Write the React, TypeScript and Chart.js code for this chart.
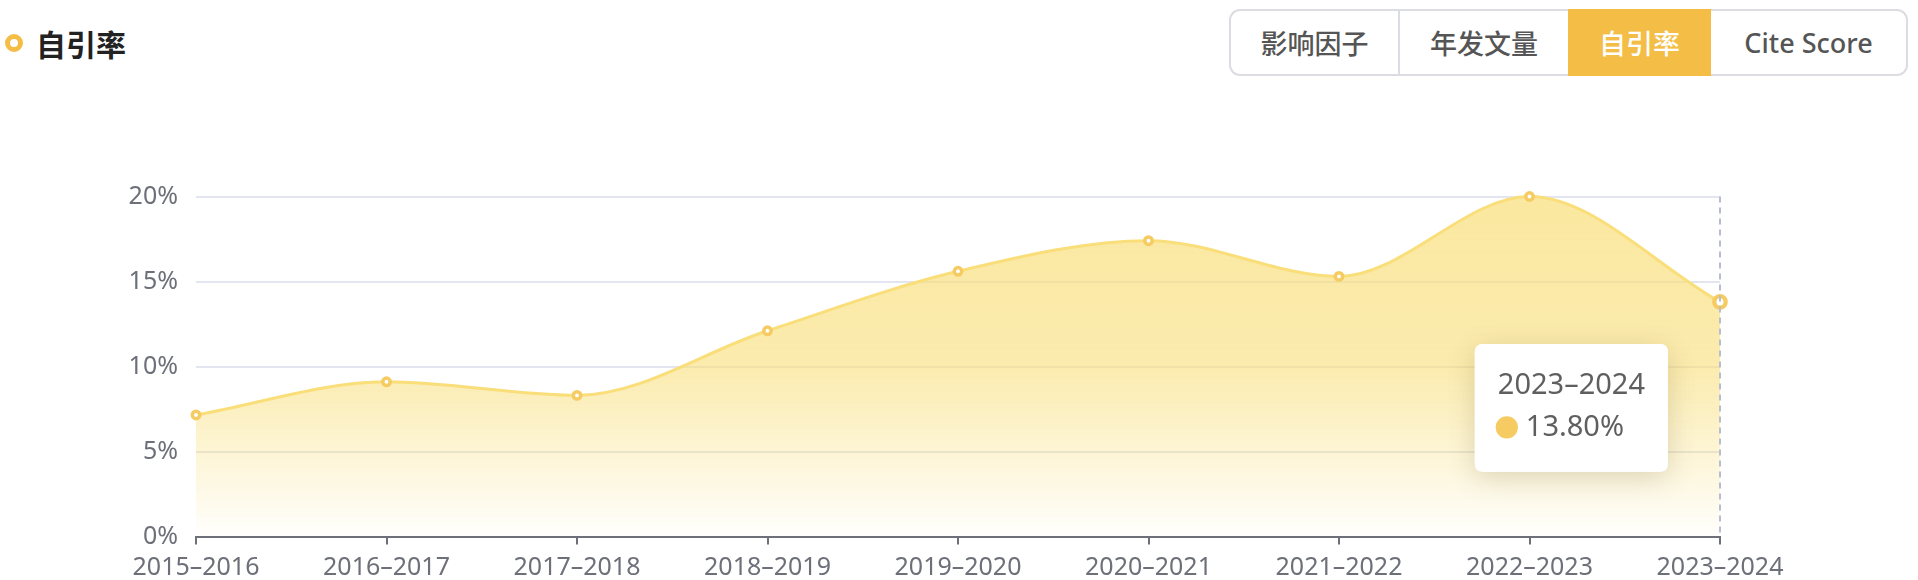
import React, { useEffect, useRef } from 'react';
import { Chart, registerables, Tooltip } from 'chart.js';

Chart.register(...registerables);

// ---- data ----
const categories = ['2015–2016', '2016–2017', '2017–2018', '2018–2019', '2019–2020', '2020–2021', '2021–2022', '2022–2023', '2023–2024'];
const selfCitationRate = [7.15, 9.1, 8.3, 12.1, 15.6, 17.4, 15.3, 20.0, 13.8];
const yMin = 0;
const yMax = 20;
const yStep = 5;
const tabs = ['影响因子', '年发文量', '自引率', 'Cite Score'];
const tabWidths = [169, 170, 143, 197];
const activeTab = '自引率';
const pageTitle = '自引率';
const activeIndex = 8;

const FONT = "'Noto Sans', 'Noto Sans CJK SC', sans-serif";
const AXIS_COLOR = '#6e7079';
const GRID_COLOR = '#e3e6f1';
const LINE_COLOR = '#f9de7a';
const POINT_COLOR = '#f5cb62';
const ACCENT = '#f4bd45';

(Tooltip.positioners as any).leftOfPoint = function (items: any[]) {
  if (!items || !items.length) return false;
  const el = items[0].element;
  return { x: el.x - 52, y: el.y + 106 };
};

const axisPointer = {
  id: 'axisPointer',
  afterDatasetsDraw(chart: any) {
    const act = chart.getActiveElements();
    if (!act.length) return;
    const x = act[0].element.x;
    const { top, bottom } = chart.chartArea;
    const ctx = chart.ctx;
    ctx.save();
    ctx.strokeStyle = '#b9bece';
    ctx.lineWidth = 2;
    ctx.setLineDash([6, 5]);
    ctx.beginPath();
    ctx.moveTo(x, top);
    ctx.lineTo(x, bottom);
    ctx.stroke();
    ctx.restore();
  },
};

const tooltipShadow = {
  id: 'tooltipShadow',
  beforeTooltipDraw(chart: any, args: any) {
    const tt = args.tooltip;
    if (!tt || tt.opacity === 0) return;
    const ctx = chart.ctx;
    ctx.save();
    ctx.shadowColor = 'rgba(90, 70, 20, 0.2)';
    ctx.shadowBlur = 28;
    ctx.shadowOffsetY = 6;
    ctx.fillStyle = '#ffffff';
    ctx.beginPath();
    (ctx as any).roundRect(tt.x, tt.y, tt.width, tt.height, 8);
    ctx.fill();
    ctx.restore();
  },
};

function LineChart() {
  const ref = useRef<HTMLCanvasElement | null>(null);
  useEffect(() => {
    if (!ref.current) return;
    const chart = new Chart(ref.current, {
      type: 'line',
      data: {
        labels: categories,
        datasets: [
          {
            label: pageTitle,
            data: selfCitationRate,
            clip: false,
            borderColor: LINE_COLOR,
            borderWidth: 3,
            cubicInterpolationMode: 'monotone',
            fill: 'origin',
            backgroundColor: (c: any) => {
              const ca = c.chart.chartArea;
              if (!ca) return 'rgba(248,221,115,0.5)';
              const g = c.chart.ctx.createLinearGradient(0, ca.top, 0, ca.bottom);
              g.addColorStop(0, 'rgba(248,221,115,0.68)');
              g.addColorStop(0.5, 'rgba(248,221,115,0.58)');
              g.addColorStop(1, 'rgba(248,221,115,0.02)');
              return g;
            },
            pointRadius: 3.7,
            pointBorderWidth: 3.5,
            pointBackgroundColor: '#ffffff',
            pointBorderColor: POINT_COLOR,
            pointHoverRadius: 5.7,
            pointHoverBorderWidth: 4.3,
            pointHoverBackgroundColor: '#ffffff',
            pointHoverBorderColor: POINT_COLOR,
          } as any,
        ],
      },
      options: {
        animation: false,
        responsive: true,
        maintainAspectRatio: false,
        events: [],
        layout: { padding: { top: 96.5, right: 198, left: 0, bottom: 0 } },
        scales: {
          x: {
            type: 'category',
            offset: false,
            border: { display: true, color: AXIS_COLOR, width: 2 },
            grid: { drawOnChartArea: false, drawTicks: true, tickLength: 8, color: AXIS_COLOR, lineWidth: 2 },
            ticks: { color: AXIS_COLOR, font: { family: FONT, size: 25 }, padding: 8, maxRotation: 0, autoSkip: false },
            afterFit: (s: any) => { s.height = 43.5; },
          },
          y: {
            min: yMin,
            max: yMax,
            border: { display: false },
            grid: {
              drawTicks: false,
              lineWidth: 2,
              color: (c: any) => (c.tick && c.tick.value === 0 ? 'rgba(0,0,0,0)' : GRID_COLOR),
            },
            ticks: {
              stepSize: yStep,
              color: AXIS_COLOR,
              padding: 18,
              font: { family: FONT, size: 25 },
              callback: (v: any) => `${v}%`,
            },
            afterFit: (s: any) => { s.width = 196; },
          },
        },
        plugins: {
          legend: { display: false },
          title: { display: false },
          tooltip: {
            enabled: true,
            position: 'leftOfPoint' as any,
            xAlign: 'right',
            yAlign: 'center',
            caretSize: 0,
            caretPadding: 0,
            backgroundColor: '#ffffff',
            borderWidth: 0,
            cornerRadius: 8,
            padding: { top: 24, bottom: 27, left: 23, right: 23 },
            titleColor: '#5f5f5f',
            bodyColor: '#5f5f5f',
            titleFont: { family: FONT, size: 29, weight: 'normal' as any },
            bodyFont: { family: FONT, size: 29 },
            titleMarginBottom: 7,
            displayColors: true,
            usePointStyle: true,
            boxWidth: 18,
            boxHeight: 18,
            boxPadding: 8,
            callbacks: {
              label: (item: any) => `${Number(item.parsed.y).toFixed(2)}%`,
              labelColor: () => ({ borderColor: POINT_COLOR, backgroundColor: POINT_COLOR }) as any,
              labelPointStyle: () => ({ pointStyle: 'circle', rotation: 0 }) as any,
            },
          },
        },
      },
      plugins: [axisPointer, tooltipShadow],
    });
    const active = [{ datasetIndex: 0, index: activeIndex }];
    chart.setActiveElements(active);
    chart.tooltip?.setActiveElements(active, { x: 0, y: 0 });
    chart.update();
    return () => chart.destroy();
  }, []);
  return (
    <div style={{ position: 'absolute', left: 0, top: 100, width: 1918, height: 480 }}>
      <canvas ref={ref} />
    </div>
  );
}

export default function App() {
  useEffect(() => {
    document.body.style.margin = '0';
  }, []);
  return (
    <div style={{ position: 'relative', width: 1918, height: 580, background: '#fff', fontFamily: FONT, overflow: 'hidden' }}>
      <div
        style={{
          position: 'absolute', left: 5, top: 34, width: 18, height: 18, boxSizing: 'border-box',
          border: `5.5px solid ${ACCENT}`, borderRadius: '50%', background: '#fff',
        }}
      />
      <div
        style={{
          position: 'absolute', left: 36, top: 22, height: 42, lineHeight: '42px',
          fontSize: 30, fontWeight: 700, color: '#222', fontFamily: "'Noto Sans CJK SC', sans-serif",
        }}
      >
        {pageTitle}
      </div>
      <div style={{ position: 'absolute', left: 1229, top: 9, height: 67, display: 'flex' }}>
        {tabs.map((t, i) => {
          const active = t === activeTab;
          const first = i === 0;
          const last = i === tabs.length - 1;
          const bc = active ? ACCENT : '#dcdde3';
          return (
            <div
              key={t}
              style={{
                boxSizing: 'border-box',
                width: tabWidths[i],
                height: 67,
                display: 'flex',
                alignItems: 'center',
                justifyContent: 'center',
                fontSize: 27,
                fontWeight: 500,
                color: active ? '#fff' : '#555',
                background: active ? ACCENT : '#fff',
                borderTop: `2px solid ${bc}`,
                borderBottom: `2px solid ${bc}`,
                borderLeft: first || i === 1 ? `2px solid ${bc}` : 'none',
                borderRight: last ? `2px solid ${bc}` : 'none',
                borderTopLeftRadius: first ? 11 : 0,
                borderBottomLeftRadius: first ? 11 : 0,
                borderTopRightRadius: last ? 11 : 0,
                borderBottomRightRadius: last ? 11 : 0,
              }}
            >
              {t}
            </div>
          );
        })}
      </div>
      <LineChart />
    </div>
  );
}
